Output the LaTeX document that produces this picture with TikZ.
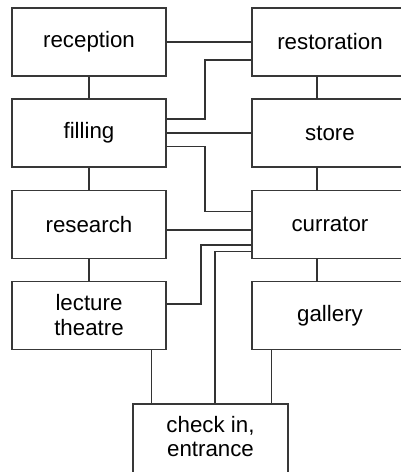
\documentclass[tikz,border=0pt]{standalone}
\usepackage{fontspec}
\setmainfont{Liberation Sans}
\begin{document}
\begin{tikzpicture}[x=1pt,y=-1pt,
  room/.style={draw=black!78,line width=1.5pt,fill=white,inner sep=0pt,
    font=\fontsize{22.3}{25}\selectfont,align=center},
  leftroom/.style={room,minimum width=154pt,minimum height=68pt},
  rightroom/.style={room,minimum width=156pt,minimum height=68pt},
  link/.style={draw=black!80,line width=1.4pt}]
\useasboundingbox (0,0) rectangle (401,472);
\clip (0,0) rectangle (401,472);
\fill[white] (0,0) rectangle (401,472);
\coordinate (k1) at (205,60);
\coordinate (k2) at (205,119);
\coordinate (k3) at (205,146.5);
\coordinate (k4) at (205,211.5);
\coordinate (k5) at (201,304);
\coordinate (k6) at (201,245);
\coordinate (k7) at (215,251.5);
% boxes
\node[leftroom] (reception) at (89,42) {reception};
\node[leftroom] (filling) at (89,133) {filling};
\node[leftroom] (research) at (89,224.5) {research};
\node[leftroom] (lecture) at (89,315.5) {lecture\\theatre};
\node[rightroom] (restoration) at (330,42) {restoration};
\node[rightroom] (store) at (330,133) {store};
\node[rightroom] (currator) at (330,224.5) {currator};
\node[rightroom] (gallery) at (330,315.5) {gallery};
\node[room,minimum width=155pt,minimum height=72pt] (checkin) at (210.5,440) {};
\node[font=\fontsize{22.3}{23.5}\selectfont,align=center,inner sep=0pt] (checkinlabel) at (210.5,436.5) {check in,\\entrance};
% connectors
\draw[link] (reception.east) -- (reception.east -| restoration.west);
\draw[link] (k1 -| restoration.west) -- (k1) -- (k2) -- (k2 -| filling.east);
\draw[link] (filling.east) -- (filling.east -| store.west);
\draw[link] (k3 -| filling.east) -- (k3) -- (k4) -- (k4 -| currator.west);
\draw[link] (research.east |- 0,230) -- (currator.west |- 0,230);
\draw[link] (k5 -| lecture.east) -- (k5) -- (k6) -- (k6 -| currator.west);
\draw[link] (k7 |- checkin.north) -- (k7) -- (k7 -| currator.west);
\draw[link] (reception.south) -- (filling.north);
\draw[link] (filling.south) -- (research.north);
\draw[link] (research.south) -- (lecture.north);
\draw[link] (317,76) -- (317,99);
\draw[link] (317,167) -- (317,191);
\draw[link] (317,258) -- (317,282);
\draw[link] (lecture.south -| 151.5,0) -- (checkin.north -| 151.5,0);
\draw[link] (gallery.south -| 271.5,0) -- (checkin.north -| 271.5,0);
\end{tikzpicture}
\end{document}
